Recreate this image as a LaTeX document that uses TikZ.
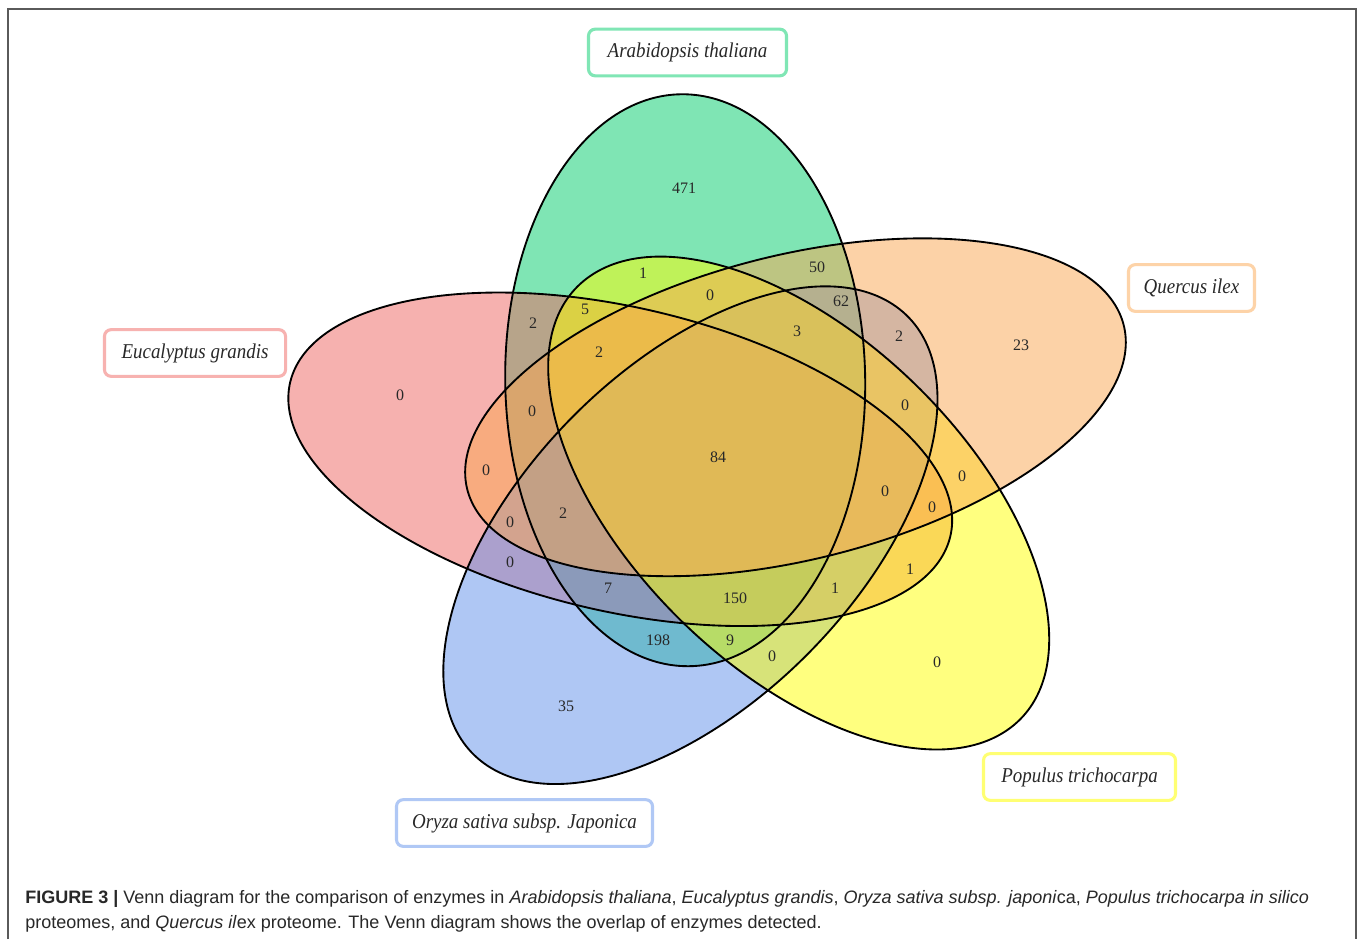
\documentclass[tikz,border=0pt]{standalone}
\usepackage{fontspec}
\setmainfont{Liberation Serif}
\newfontfamily\labfont[FakeStretch=0.9]{Liberation Serif}
\newfontfamily\capfont{Liberation Sans}
\definecolor{colA}{RGB}{1,205,107}
\definecolor{colE}{RGB}{239,101,97}
\definecolor{colO}{RGB}{97,145,235}
\definecolor{colP}{RGB}{255,255,0}
\definecolor{colQ}{RGB}{251,167,81}
\definecolor{framegray}{RGB}{90,90,90}
\definecolor{txtgray}{RGB}{40,40,40}
\tikzset{
  setfill/.style={fill=#1, fill opacity=0.5},
  setline/.style={draw=black, line width=1.4pt},
  num/.style={font=\fontsize{12}{13}\selectfont, text=txtgray, inner sep=0pt},
  lbox/.style={draw=#1, line width=2.3pt, rounded corners=5pt, fill=white,
    inner sep=0pt, minimum height=35pt, text=txtgray,
    font=\labfont\itshape\fontsize{15.8}{17}\selectfont},
  captxt/.style={anchor=base west, inner sep=0pt, text=txtgray,
    font=\capfont\fontsize{13.5}{15}\selectfont}
}
\begin{document}
\begin{tikzpicture}[x=0.75pt, y=0.75pt]
\useasboundingbox (0,0) rectangle (1358,-939);
\fill[white] (0,0) rectangle (1358,-939);
\draw[framegray, line width=1.1pt] (8,-939) -- (8,-9) -- (1356,-9) -- (1356,-939);
% the five sets
\begin{scope}[shift={(718,-457)}, xscale=1.2]
  \fill[setfill=colA, rotate=90.6]  (19:81.5) ellipse [x radius=286, y radius=150];
  \fill[setfill=colE, rotate=162.6] (19:81.5) ellipse [x radius=286, y radius=150];
  \fill[setfill=colO, rotate=-125.4] (19:81.5) ellipse [x radius=286, y radius=150];
  \fill[setfill=colP, rotate=-53.4] (19:81.5) ellipse [x radius=286, y radius=150];
  \fill[setfill=colQ, rotate=18.6]  (19:81.5) ellipse [x radius=286, y radius=150];
  \draw[setline, rotate=90.6]  (19:81.5) ellipse [x radius=286, y radius=150];
  \draw[setline, rotate=162.6] (19:81.5) ellipse [x radius=286, y radius=150];
  \draw[setline, rotate=-125.4] (19:81.5) ellipse [x radius=286, y radius=150];
  \draw[setline, rotate=-53.4] (19:81.5) ellipse [x radius=286, y radius=150];
  \draw[setline, rotate=18.6]  (19:81.5) ellipse [x radius=286, y radius=150];
\end{scope}
% region counts
\node[num] (n01) at (684,-188) {471};
\node[num] (n02) at (643,-273) {1};
\node[num] (n03) at (817,-267) {50};
\node[num] (n04) at (710,-295) {0};
\node[num] (n05) at (841,-301) {62};
\node[num] (n06) at (585,-309) {5};
\node[num] (n07) at (533,-323) {2};
\node[num] (n08) at (797,-331) {3};
\node[num] (n09) at (899,-336) {2};
\node[num] (n10) at (1021,-345) {23};
\node[num] (n11) at (599,-352) {2};
\node[num] (n12) at (400,-395) {0};
\node[num] (n13) at (905,-405) {0};
\node[num] (n14) at (532,-411) {0};
\node[num] (n15) at (718,-457) {84};
\node[num] (n16) at (486,-470) {0};
\node[num] (n17) at (962,-476) {0};
\node[num] (n18) at (885,-491) {0};
\node[num] (n19) at (932,-507) {0};
\node[num] (n20) at (563,-513) {2};
\node[num] (n21) at (510,-522) {0};
\node[num] (n22) at (510,-562) {0};
\node[num] (n23) at (910,-569) {1};
\node[num] (n24) at (835,-588) {1};
\node[num] (n25) at (608,-588) {7};
\node[num] (n26) at (735,-598) {150};
\node[num] (n27) at (658,-640) {198};
\node[num] (n28) at (730,-640) {9};
\node[num] (n29) at (772,-656) {0};
\node[num] (n30) at (937,-662) {0};
\node[num] (n31) at (566,-706) {35};
% set names
\node[lbox=colA!50!white, minimum width=148.5pt] (labA) at (687.5,-52.5) {Arabidopsis thaliana};
\node[lbox=colE!50!white, minimum width=135.8pt] (labE) at (195,-353) {Eucalyptus grandis};
\node[lbox=colQ!50!white, minimum width=94.5pt] (labQ) at (1191.5,-288) {Quercus ilex};
\node[lbox=colP!55!white, minimum width=144pt] (labP) at (1079.5,-777) {Populus trichocarpa};
\node[lbox=colO!50!white, minimum width=192pt] (labO) at (524.5,-823) {Oryza sativa subsp. Japonica};
% caption
\node[captxt] (cap1) at (25,-903) {\textbf{FIGURE 3 |} Venn diagram for the comparison of enzymes in \textit{Arabidopsis thaliana}, \textit{Eucalyptus grandis}, \textit{Oryza sativa subsp. japoni}ca, \textit{Populus trichocarpa in silico}};
\node[captxt] (cap2) at (25,-928) {proteomes, and \textit{Quercus il}ex proteome. The Venn diagram shows the overlap of enzymes detected.};
\end{tikzpicture}
\end{document}
